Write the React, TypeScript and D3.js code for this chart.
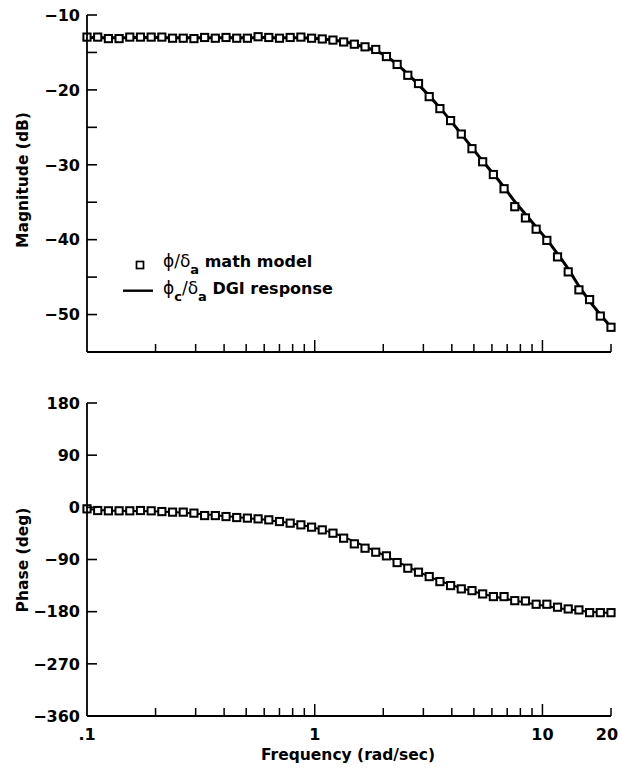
import React from "react";
import * as d3 from "d3";

// Frequency points (rad/sec)
const freq = [
  0.1, 0.11142, 0.12414, 0.13832, 0.15411, 0.17171, 0.19132, 0.21316, 0.2375, 0.26463,
  0.29484, 0.32851, 0.36602, 0.40782, 0.45439, 0.50628, 0.56409, 0.6285, 0.70027, 0.78023,
  0.86933, 0.9686, 1.0792, 1.2024, 1.3397, 1.4927, 1.6632, 1.8531, 2.0647, 2.3005,
  2.5632, 2.8559, 3.182, 3.5453, 3.9502, 4.4013, 4.9039, 5.4639, 6.0878, 6.783,
  7.5576, 8.4206, 9.3822, 10.454, 11.647, 12.977, 14.459, 16.11, 17.95, 20.0,
];

// phi/delta_a math model magnitude (dB)
const magModel = [
  -12.95, -12.95, -13.15, -13.15, -12.95, -12.95, -12.95, -12.95, -13.1, -13.1,
  -13.15, -13.0, -13.1, -13.0, -13.1, -13.1, -12.9, -13.0, -13.1, -13.0,
  -12.95, -13.1, -13.2, -13.35, -13.6, -13.9, -14.25, -14.6, -15.55, -16.6,
  -18.05, -19.15, -20.9, -22.5, -24.1, -25.9, -27.85, -29.6, -31.3, -33.2,
  -35.6, -37.1, -38.6, -40.1, -42.3, -44.3, -46.7, -48.0, -50.2, -51.7,
];

// phi_c/delta_a DGI response magnitude (dB)
const magDGI = [
  -13.0, -13.0, -13.05, -13.05, -13.0, -13.0, -13.0, -13.0, -13.05, -13.05,
  -13.05, -13.05, -13.05, -13.05, -13.05, -13.05, -13.0, -13.0, -13.05, -13.05,
  -13.05, -13.1, -13.2, -13.35, -13.55, -13.9, -14.3, -14.8, -15.5, -16.6,
  -17.9, -19.3, -20.8, -22.4, -24.1, -25.9, -27.7, -29.5, -31.2, -33.0,
  -34.9, -36.6, -38.3, -40.0, -41.9, -43.9, -46.2, -48.2, -50.0, -51.7,
];

// phi/delta_a math model phase (deg)
const phaseModel = [
  -2.6, -5.5, -6, -6, -6, -5.5, -6, -7.3, -8.3, -8.3,
  -10, -14.2, -14.2, -15.9, -17.6, -18.6, -19.9, -21.6, -24.5, -27.3,
  -30.2, -34.2, -38.9, -44.6, -53.2, -63, -70.5, -77.4, -83.7, -95.3,
  -105, -111.9, -119.5, -128.1, -135, -140.7, -143.7, -149.4, -154, -154,
  -161, -161.5, -167.2, -167.2, -172.3, -175.3, -177, -181.7, -181.7, -181.7,
];

// phi_c/delta_a DGI response phase (deg)
const phaseDGI = [
  -3, -4.5, -5.5, -6, -6.2, -6.4, -6.8, -7.4, -8.2, -9.2,
  -10.5, -12, -13.5, -15.2, -17, -18.6, -20.2, -22.2, -24.6, -27.4,
  -30.6, -34.4, -38.9, -44.3, -51, -59, -67.5, -76, -84.5, -93.5,
  -102.5, -111, -119.5, -127, -133.5, -139.5, -144.5, -149.5, -153.5, -157.5,
  -161, -164.5, -167.5, -170.5, -173.5, -176, -178, -180, -181.5, -182,
];

const magMajorTicks = [-10, -20, -30, -40, -50];
const magMinorTicks = [-15, -25, -35, -45];
const phaseTicks = [180, 90, 0, -90, -180, -270, -360];
const freqMajorTicks = [1, 10];
const freqMinorTicks = [0.2, 0.3, 0.4, 0.5, 0.6, 0.7, 0.8, 0.9, 2, 3, 4, 5, 6, 7, 8, 9, 20];
const freqLabelValues = [0.1, 1, 10, 20];
const freqLabelTexts = [".1", "1", "10", "20"];

const W = 620;
const H = 768;
const FONT = "'DejaVu Sans', 'Liberation Sans', Arial, sans-serif";

const x = d3.scaleLog().domain([0.1, 20]).range([87, 611]);
const yMag = d3.scaleLinear().domain([-55, -10]).range([352, 15]);
const yPh = d3.scaleLinear().domain([-360, 180]).range([716, 403]);

const fmt = (v: number) => (v < 0 ? "\u2212" + Math.abs(v) : String(v));

function Panel({
  y,
  model,
  dgi,
  majorTicks,
  minorTicks,
  lineWidth,
}: {
  y: d3.ScaleLinear<number, number>;
  model: number[];
  dgi: number[];
  majorTicks: number[];
  minorTicks: number[];
  lineWidth: number;
}) {
  const [yBottom, yTop] = y.range();
  const [x0, x1] = x.range();
  const line = d3
    .line<number>()
    .x((_, i) => x(freq[i]))
    .y((d) => y(d))
    .curve(d3.curveMonotoneX);
  const sq = 7.2;
  return (
    <g>
      <path d={line(dgi) || ""} fill="none" stroke="#000" strokeWidth={lineWidth} />
      {model.map((v, i) => (
        <rect
          key={i}
          x={x(freq[i]) - sq / 2}
          y={y(v) - sq / 2}
          width={sq}
          height={sq}
          fill="#fff"
          stroke="#000"
          strokeWidth={2}
        />
      ))}
      {/* axes */}
      <line x1={x0} x2={x0} y1={yTop} y2={yBottom} stroke="#000" strokeWidth={1.8} />
      <line x1={x0} x2={x1} y1={yBottom} y2={yBottom} stroke="#000" strokeWidth={1.8} />
      {majorTicks.map((t) => (
        <g key={"ym" + t}>
          <line x1={x0} x2={x0 + 10} y1={y(t)} y2={y(t)} stroke="#000" strokeWidth={1.6} />
          <text
            x={80}
            y={y(t)}
            dy="0.36em"
            textAnchor="end"
            fontFamily={FONT}
            fontWeight="bold"
            fontSize={16}
          >
            {fmt(t)}
          </text>
        </g>
      ))}
      {minorTicks.map((t) => (
        <line key={"yn" + t} x1={x0} x2={x0 + 10} y1={y(t)} y2={y(t)} stroke="#000" strokeWidth={1.6} />
      ))}
      {freqMajorTicks.map((f) => (
        <line key={"xm" + f} x1={x(f)} x2={x(f)} y1={yBottom} y2={yBottom - 12} stroke="#000" strokeWidth={1.5} />
      ))}
      {freqMinorTicks.map((f) => (
        <line key={"xn" + f} x1={x(f)} x2={x(f)} y1={yBottom} y2={yBottom - 8} stroke="#000" strokeWidth={1.5} />
      ))}
    </g>
  );
}

export default function App() {
  return (
    <svg
      width={W}
      height={H}
      viewBox={`0 0 ${W} ${H}`}
      style={{ position: "absolute", left: 0, top: 0, background: "#fff" }}
    >
      <rect x={0} y={0} width={W} height={H} fill="#fff" />
      <Panel y={yMag} model={magModel} dgi={magDGI} majorTicks={magMajorTicks} minorTicks={magMinorTicks} lineWidth={3} />
      <Panel y={yPh} model={phaseModel} dgi={phaseDGI} majorTicks={phaseTicks} minorTicks={[]} lineWidth={2} />

      {/* x tick labels */}
      {freqLabelValues.map((f, i) => (
        <text
          key={"xl" + f}
          x={Math.min(x(f), W - 13)}
          y={740}
          textAnchor="middle"
          fontFamily={FONT}
          fontWeight="bold"
          fontSize={16}
        >
          {freqLabelTexts[i]}
        </text>
      ))}

      {/* axis titles */}
      <text
        transform="translate(28,180) rotate(-90)"
        textAnchor="middle"
        fontFamily={FONT}
        fontWeight="bold"
        fontSize={15.5}
      >
        Magnitude (dB)
      </text>
      <text
        transform="translate(28,560) rotate(-90)"
        textAnchor="middle"
        fontFamily={FONT}
        fontWeight="bold"
        fontSize={15.5}
      >
        Phase (deg)
      </text>
      <text x={348} y={760} textAnchor="middle" fontFamily={FONT} fontWeight="bold" fontSize={15.5}>
        Frequency (rad/sec)
      </text>

      {/* legend */}
      <rect x={136.5} y={261.5} width={7} height={7} fill="#fff" stroke="#000" strokeWidth={1.7} />
      <text x={163} y={267} fontFamily={FONT} fontSize={16} fontWeight="bold">
        <tspan fontWeight="normal" fontSize={17}>{"\u03D5/\u03B4"}</tspan>
        <tspan dy={7} fontSize={13}>a</tspan>
        <tspan dy={-7}> math model</tspan>
      </text>
      <line x1={123} x2={153} y1={290.7} y2={290.7} stroke="#000" strokeWidth={2.4} />
      <text x={163} y={293.5} fontFamily={FONT} fontSize={16} fontWeight="bold">
        <tspan fontWeight="normal" fontSize={17}>{"\u03D5"}</tspan>
        <tspan dy={7} fontSize={13}>c</tspan>
        <tspan dy={-7} fontWeight="normal" fontSize={17}>{"/\u03B4"}</tspan>
        <tspan dy={7} fontSize={13}>a</tspan>
        <tspan dy={-7}> DGI response</tspan>
      </text>
    </svg>
  );
}
